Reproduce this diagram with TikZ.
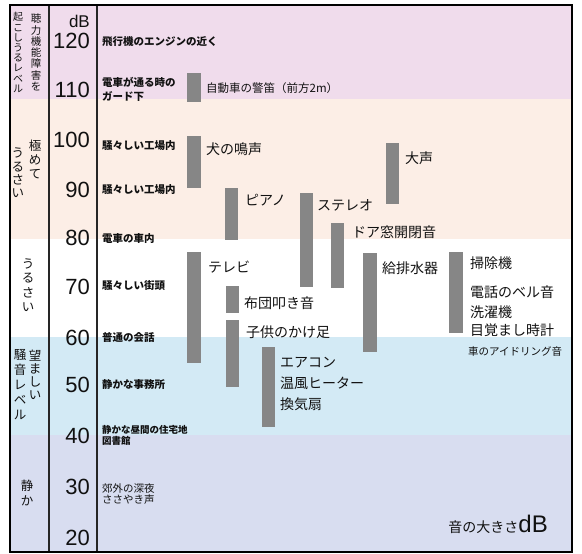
\documentclass[tikz,border=0pt]{standalone}
\usepackage{fontspec}
\setmainfont{Liberation Sans}
\newfontfamily\jp{Noto Sans CJK JP}
\definecolor{bandpink}{HTML}{F0DCEC}
\definecolor{bandpeach}{HTML}{FCEEE6}
\definecolor{bandwhite}{HTML}{FFFFFF}
\definecolor{bandblue}{HTML}{D3EAF5}
\definecolor{bandlav}{HTML}{D8DDF0}
\definecolor{bargray}{HTML}{868686}
\definecolor{inkc}{HTML}{111111}
\tikzset{
  bar/.style={fill=bargray},
  lab/.style={anchor=west, inner sep=0pt, text=inkc, font=\jp\fontsize{14}{21}\selectfont, align=left},
  src/.style={anchor=west, inner sep=0pt, text=inkc, font=\jp\bfseries\fontsize{10.5}{14}\selectfont, align=left},
  num/.style={anchor=east, inner sep=0pt, text=inkc, font=\fontsize{22}{22}\selectfont},
  vtext/.style={inner sep=0pt, text=inkc, align=center},
  colline/.style={draw=black!85, line width=1.2pt},
}
\begin{document}
\begin{tikzpicture}[x=1pt,y=-1pt]
\useasboundingbox (0,0) rectangle (582,554);
\fill[white] (0,0) rectangle (582,554);
% bands
\fill[bandpink]  (10,5)   rectangle (572,99);
\fill[bandpeach] (10,99)  rectangle (572,239);
\fill[bandwhite] (10,239) rectangle (572,337);
\fill[bandblue]  (10,337) rectangle (572,435);
\fill[bandlav]   (10,435) rectangle (572,552);
% column lines
\draw[colline] (49,5) -- (49,552);
\draw[colline] (97,5) -- (97,552);
% frame
\draw[black, line width=2.2pt] (10,5) rectangle (572,552);

% column 1 vertical labels
\node[vtext, font=\jp\fontsize{10.5}{11.3}\selectfont] (v1r) at (36,52.5) {聴\\力\\機\\能\\障\\害\\を};
\node[vtext, font=\jp\fontsize{10}{10.2}\selectfont] (v1l) at (18,52.5) {起\\こ\\し\\う\\る\\レ\\ベ\\ル};
\node[vtext, font=\jp\fontsize{12.5}{14}\selectfont] (v2r) at (35,159) {極\\め\\て};
\node[vtext, font=\jp\fontsize{12.5}{13.4}\selectfont] (v2l) at (18,173) {う\\る\\さ\\い};
\node[vtext, font=\jp\fontsize{12.5}{14.5}\selectfont] (v3) at (28,285) {う\\る\\さ\\い};
\node[vtext, font=\jp\fontsize{12.5}{13.2}\selectfont] (v4r) at (35,375) {望\\ま\\し\\い};
\node[vtext, font=\jp\fontsize{12.5}{15}\selectfont] (v4l) at (20,385) {騒\\音\\レ\\ベ\\ル};
\node[vtext, font=\jp\fontsize{12.5}{15}\selectfont] (v5) at (27,493) {静\\か};

% column 2 numbers
\node[num, font=\fontsize{17}{17}\selectfont] (db) at (90,21.5) {dB};
\node[num] (n120) at (90,40.5) {120};
\node[num] (n110) at (90,90) {110};
\node[num] (n100) at (90,140) {100};
\node[num] (n90) at (90,190) {90};
\node[num] (n80) at (90,238) {80};
\node[num] (n70) at (90,287) {70};
\node[num] (n60) at (90,338) {60};
\node[num] (n50) at (90,385) {50};
\node[num] (n40) at (90,436) {40};
\node[num] (n30) at (90,487) {30};
\node[num] (n20) at (90,538) {20};

% column 3 sources
\node[src] (s120) at (102,42) {飛行機のエンジンの近く};
\node[src] (s110) at (102,89) {電車が通る時の\\ガード下};
\node[src] (s100) at (102,146) {騒々しい工場内};
\node[src] (s90) at (102,190) {騒々しい工場内};
\node[src] (s80) at (102,239) {電車の車内};
\node[src] (s70) at (102,286) {騒々しい街頭};
\node[src] (s60) at (102,337) {普通の会話};
\node[src] (s50) at (102,385) {静かな事務所};
\node[src, font=\jp\bfseries\fontsize{9.5}{11}\selectfont] (s40) at (102,435.5) {静かな昼間の住宅地\\図書館};
\node[src, font=\jp\fontsize{10.5}{11}\selectfont] (s30) at (102,494) {郊外の深夜\\ささやき声};

% bars
\fill[bar] (187,73) rectangle (201,102);
\fill[bar] (187,136) rectangle (201,188);
\fill[bar] (225,188) rectangle (238,240);
\fill[bar] (300,193) rectangle (313,287);
\fill[bar] (386,143) rectangle (399,204);
\fill[bar] (331,223) rectangle (344,288);
\fill[bar] (187,252) rectangle (201,363);
\fill[bar] (226,286) rectangle (239,313);
\fill[bar] (226,320) rectangle (239,387);
\fill[bar] (262,347) rectangle (275,427);
\fill[bar] (363,253) rectangle (377,352);
\fill[bar] (449,252) rectangle (463,333);

% bar labels
\node[lab, font=\jp\fontsize{11.5}{13}\selectfont] (l1) at (206,88) {自動車の警笛（前方2m）};
\node[lab] (l2) at (206,149) {犬の鳴声};
\node[lab] (l3) at (245,200) {ピアノ};
\node[lab] (l4) at (317,205) {ステレオ};
\node[lab] (l5) at (405,158) {大声};
\node[lab] (l6) at (352,232) {ドア窓開閉音};
\node[lab] (l7) at (208,267) {テレビ};
\node[lab] (l8) at (244,303) {布団叩き音};
\node[lab] (l9) at (246,332) {子供のかけ足};
\node[lab] (l10) at (280,384) {エアコン\\温風ヒーター\\換気扇};
\node[lab] (l11) at (382,268) {給排水器};
\node[lab] (l12) at (470,263) {掃除機};
\node[lab] (l13) at (470,292) {電話のベル音};
\node[lab] (l14) at (470,312) {洗濯機};
\node[lab] (l15) at (470,330) {目覚まし時計};
\node[lab, font=\jp\fontsize{10.5}{12}\selectfont] (l16) at (468,352) {車のアイドリング音};

% axis caption
\node[anchor=base east, inner sep=0pt, text=inkc] (cap) at (548,532) {{\jp\fontsize{14}{14}\selectfont 音の大きさ}{\fontsize{24}{24}\selectfont dB}};
\end{tikzpicture}
\end{document}
